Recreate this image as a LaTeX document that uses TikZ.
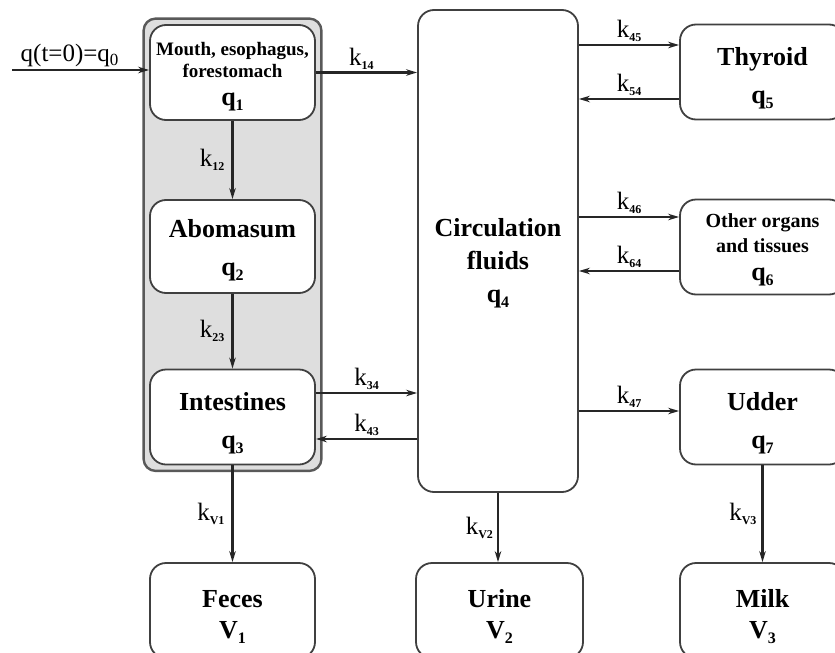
\documentclass[tikz,border=0pt]{standalone}
\usepackage{fontspec}
\setmainfont{Liberation Serif}
\usetikzlibrary{arrows.meta,fit,backgrounds}
\newcommand\qsub[1]{\raisebox{-5pt}{\fontsize{16}{16}\selectfont #1}}
\newcommand\ksub[1]{\raisebox{-4pt}{\fontsize{12}{12}\selectfont\bfseries #1}}
\newcommand\lift[1]{\rule{0pt}{#1}}
\tikzset{comp/.style={
        draw=black!75,
        line width=1.8pt,
        rounded corners=16pt,
        fill=white,
        align=center,
        minimum width=165pt,
        minimum height=95pt,
        inner sep=0pt,
        font=\bfseries\fontsize{26}{38}\selectfont },
    gut/.style={
        draw=black!65,
        line width=2.4pt,
        rounded corners=12pt,
        fill=black!13,
        inner sep=5.5pt },
    flow/.style={
        line width=2.1pt,
        draw=black!85,
        -{Stealth[length=11pt,width=6.5pt]} },
    rate/.style={
        font=\fontsize{25}{25}\selectfont,
        inner sep=2pt } }
\begin{document}
\begin{tikzpicture}[x=1pt,y=-1pt]
\useasboundingbox (0,0) rectangle (835,653);

% gastrointestinal tract
\node[comp, font=\bfseries\fontsize{19}{22}\selectfont] (q1) at (232.5,72.5)
{\lift{22pt}Mouth, esophagus,\\
forestomach\\[6pt]
{\fontsize{26}{26}\selectfont q\qsub{1}}};
\node[comp, minimum height=93pt] (q2) at (232.5,246.5) {\lift{26pt}Abomasum\\q\qsub{2}};
\node[comp] (q3) at (232.5,417) {\lift{30pt}Intestines\\q\qsub{3}};

\begin{scope}[on background layer]
\node[gut, fit=(q1)(q3)] (gi) {};
\end{scope}

% central compartment
\node[comp, minimum width=160pt, minimum height=482pt,
      font=\bfseries\fontsize{26}{33}\selectfont] (q4) at (498,251)
{\lift{42pt}Circulation\\fluids\\q\qsub{4}};

% peripheral compartments
\node[comp] (q5) at (762.5,72) {\lift{30pt}Thyroid\\q\qsub{5}};
\node[comp, font=\bfseries\fontsize{20}{25}\selectfont] (q6) at (762.5,247)
{\lift{20pt}Other organs\\and tissues\\[3pt]{\fontsize{26}{26}\selectfont q\qsub{6}}};
\node[comp] (q7) at (762.5,417) {\lift{30pt}Udder\\q\qsub{7}};

% excretion
\node[comp, font=\bfseries\fontsize{26}{31}\selectfont] (v1) at (232.5,610.5) {\lift{30pt}Feces\\V\qsub{1}};
\node[comp, minimum width=167pt, font=\bfseries\fontsize{26}{31}\selectfont] (v2) at (499.5,610.5) {\lift{30pt}Urine\\V\qsub{2}};
\node[comp, font=\bfseries\fontsize{26}{31}\selectfont] (v3) at (762.5,610.5) {\lift{30pt}Milk\\V\qsub{3}};

\coordinate (q0) at (12,70);

\draw[flow] (q0) -- (q0 -| q1.west)
    node[rate, pos=0.42, above] (l0) {q(t=0)=q\raisebox{-4pt}{\fontsize{17}{17}\selectfont 0}};
\draw[flow] (q1.east) -- (q1.east -| q4.west) node[rate, pos=0.45, above] (k14) {k\ksub{14}};
\draw[flow] (q1.south) -- (q2.north) node[rate, midway, left=5pt] (k12) {k\ksub{12}};
\draw[flow] (q2.south) -- (q3.north) node[rate, midway, left=5pt] (k23) {k\ksub{23}};
\draw[flow] ([yshift=24pt]q3.east) -- ([yshift=24pt]q3.east -| q4.west)
    node[rate, midway, above] (k34) {k\ksub{34}};
\draw[flow] ([yshift=-22pt]q3.east -| q4.west) -- ([yshift=-22pt]q3.east)
    node[rate, midway, above] (k43) {k\ksub{43}};

\draw[flow] ([yshift=27pt]q5.west -| q4.east) -- ([yshift=27pt]q5.west)
    node[rate, midway, above] (k45) {k\ksub{45}};
\draw[flow] ([yshift=-27pt]q5.west) -- ([yshift=-27pt]q5.west -| q4.east)
    node[rate, midway, above] (k54) {k\ksub{54}};
\draw[flow] ([yshift=30pt]q6.west -| q4.east) -- ([yshift=30pt]q6.west)
    node[rate, midway, above] (k46) {k\ksub{46}};
\draw[flow] ([yshift=-24pt]q6.west) -- ([yshift=-24pt]q6.west -| q4.east)
    node[rate, midway, above] (k64) {k\ksub{64}};
\draw[flow] ([yshift=6pt]q7.west -| q4.east) -- ([yshift=6pt]q7.west)
    node[rate, midway, above] (k47) {k\ksub{47}};

\draw[flow] (q3.south) -- (v1.north) node[rate, midway, left=5pt] (kv1) {k\ksub{V1}};
\draw[flow] (q4.south) -- (q4.south |- v2.north) node[rate, midway, left=2pt] (kv2) {k\ksub{V2}};
\draw[flow] (q7.south) -- (v3.north) node[rate, midway, left=3pt] (kv3) {k\ksub{V3}};

\end{tikzpicture}
\end{document}
